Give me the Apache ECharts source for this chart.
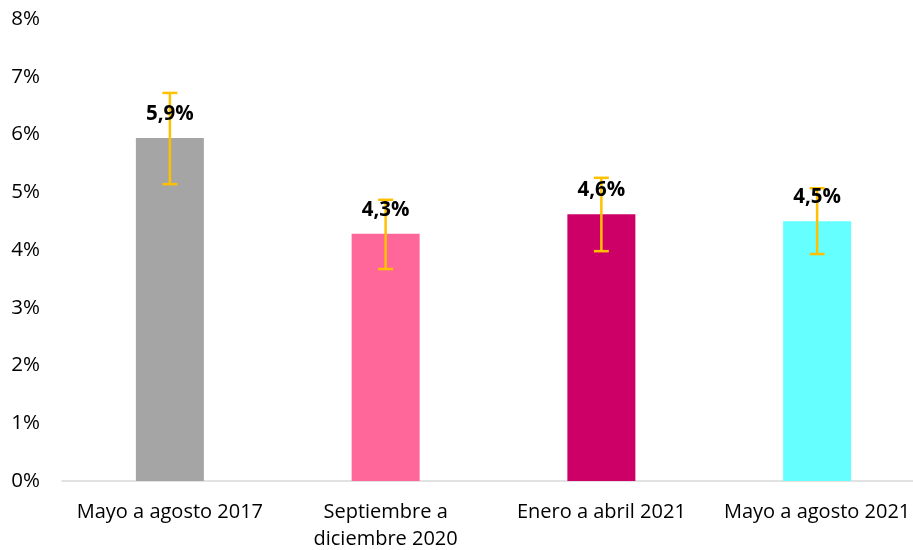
<!DOCTYPE html>
<html><head><meta charset="utf-8">
<script src="https://cdn.jsdelivr.net/npm/echarts@6/dist/echarts.min.js"></script>
<style>html,body{margin:0;padding:0;background:#fff}#c{width:913px;height:550px}</style>
</head><body><div id="c"></div>
<script>
const categories = ['Mayo a agosto 2017', 'Septiembre a\ndiciembre 2020', 'Enero a abril 2021', 'Mayo a agosto 2021'];
const values = [5.94, 4.28, 4.62, 4.50];
const labels = ['5,9%', '4,3%', '4,6%', '4,5%'];
const errLow = [5.14, 3.67, 3.98, 3.93];
const errHigh = [6.72, 4.87, 5.25, 5.07];
const colors = ['#A5A5A5', '#FF6699', '#CC0066', '#66FFFF'];

const chart = echarts.init(document.getElementById('c'));
const font = '"Open Sans", "Noto Sans", sans-serif';
chart.setOption({
  animation: false,
  grid: {left: 62, top: 19, bottom: 69, width: 863, outerBoundsMode: 'none', containLabel: false},
  xAxis: {
    type: 'category', data: categories,
    axisLine: {lineStyle: {color: '#D9D9D9', width: 1.5}},
    axisTick: {show: false},
    axisLabel: {color: '#000', fontSize: 20, fontFamily: font, margin: 18, lineHeight: 27, interval: 0, hideOverlap: false}
  },
  yAxis: {
    type: 'value', min: 0, max: 8, interval: 1,
    splitLine: {show: false}, axisLine: {show: false},
    axisLabel: {color: '#000', fontSize: 20.5, fontFamily: font, formatter: v => v + '%', margin: 22}
  },
  series: [
    {
      type: 'bar', barWidth: 68,
      data: values.map((v, i) => ({value: v, itemStyle: {color: colors[i]}})),
      z: 2
    },
    {
      type: 'custom',
      data: errLow.map((l, i) => [i, l, errHigh[i], values[i]]),
      renderItem: (params, api) => {
        const i = params.dataIndex;
        const lo = api.coord([api.value(0), api.value(1)]);
        const hi = api.coord([api.value(0), api.value(2)]);
        const top = api.coord([api.value(0), api.value(3)]);
        const w = 7.5;
        const style = {stroke: '#FFC000', lineWidth: 2.5, fill: null};
        return {type: 'group', children: [
          {type: 'line', shape: {x1: lo[0], y1: lo[1], x2: hi[0], y2: hi[1]}, style},
          {type: 'line', shape: {x1: lo[0]-w, y1: lo[1], x2: lo[0]+w, y2: lo[1]}, style},
          {type: 'line', shape: {x1: hi[0]-w, y1: hi[1], x2: hi[0]+w, y2: hi[1]}, style},
          {type: 'text', x: top[0], y: top[1] - 24, style: {text: labels[i], fill: '#000',
            font: 'bold 20.5px ' + font, align: 'center', verticalAlign: 'middle'}}
        ]};
      },
      z: 3
    }
  ]
});
</script></body></html>
